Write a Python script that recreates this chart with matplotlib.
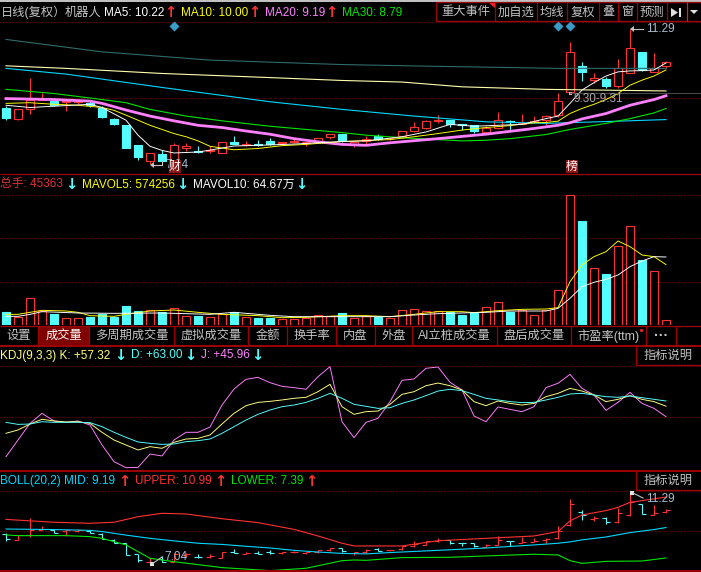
#!/usr/bin/env python3
import matplotlib
matplotlib.use("Agg")
import matplotlib.pyplot as plt
from matplotlib.patches import Rectangle, Polygon

plt.rcParams["font.family"] = ["Liberation Sans", "Noto Sans CJK SC", "DejaVu Sans"]

W, H = 701, 572
BG = "#000000"
RED = "#ff3232"
CYAN = "#54ffff"
YELLOW = "#ffff00"
MAGENTA = "#ff80ff"
GREEN = "#00e600"
TEAL = "#2f6b6b"
CREAM = "#ffffb0"
SKY = "#00d8ff"
PALE = "#ffff80"
GRAY = "#c4c4c4"
FRAME = "#a00000"
DOT = "#a00000"

# daily candles
opens = [8.79, 8.46, 8.76, 9.05, 9.02, 9.00, 8.98, 8.97, 8.79, 8.47, 8.26, 7.63, 7.13, 7.35,
         7.18, 7.56, 7.46, 7.46, 7.40, 7.74, 7.64, 7.67, 7.76, 7.71, 7.74, 7.71, 7.77, 7.88,
         8.00, 7.66, 7.76, 7.93, 7.85, 7.93, 8.09, 8.18, 8.40, 8.43, 8.30, 8.26, 8.06, 8.16,
         8.40, 8.30, 8.36, 8.44, 8.58, 9.32, 10.12, 9.68, 9.73, 9.50, 9.92, 10.58, 9.94, 10.11]
closes = [8.50, 8.76, 9.05, 9.09, 8.89, 9.03, 9.02, 8.89, 8.53, 8.29, 7.55, 7.27, 7.40, 7.13,
          7.63, 7.62, 7.43, 7.49, 7.75, 7.67, 7.67, 7.65, 7.67, 7.73, 7.77, 7.74, 7.85, 8.00,
          7.79, 7.74, 7.84, 7.83, 7.87, 8.09, 8.22, 8.38, 8.44, 8.29, 8.27, 8.08, 8.17, 8.44,
          8.37, 8.34, 8.41, 8.54, 9.01, 10.58, 9.94, 9.75, 9.49, 10.07, 10.68, 9.99, 10.05, 10.24]
highs = [8.86, 8.76, 9.75, 9.26, 9.05, 9.05, 9.08, 9.03, 8.86, 8.50, 8.26, 7.63, 7.40, 7.48,
         7.69, 7.71, 7.60, 7.61, 7.75, 7.92, 7.76, 7.81, 7.85, 7.73, 7.82, 7.74, 7.85, 8.00,
         8.00, 7.74, 7.92, 7.98, 7.87, 8.09, 8.37, 8.42, 8.58, 8.43, 8.30, 8.26, 8.23, 8.67,
         8.42, 8.61, 8.55, 8.57, 9.26, 10.88, 10.25, 9.89, 9.79, 10.33, 11.29, 10.58, 10.52, 10.27]
lows = [8.42, 8.44, 8.61, 9.05, 8.86, 8.71, 8.93, 8.84, 8.50, 8.27, 7.55, 7.16, 7.04, 7.13,
        7.16, 7.45, 7.39, 7.38, 7.40, 7.67, 7.60, 7.60, 7.65, 7.63, 7.71, 7.62, 7.71, 7.83,
        7.74, 7.58, 7.66, 7.81, 7.79, 7.86, 8.04, 8.15, 8.34, 8.21, 8.11, 8.02, 8.05, 8.13,
        8.11, 8.29, 8.32, 8.26, 8.53, 9.30, 9.65, 9.58, 9.42, 9.44, 9.89, 9.97, 9.93, 10.05]

# moving averages, read at the days listed
ma5_idx = [0, 2, 4, 7, 8, 10, 11, 12, 13, 14, 16, 17, 19, 21, 24, 28, 30, 33, 35, 37, 39, 41,
           43, 45, 46, 47, 48, 49, 50, 51, 52, 53, 54, 55]
ma5 = [8.89, 8.82, 8.86, 8.92, 8.82, 8.42, 7.95, 7.60, 7.47, 7.39, 7.42, 7.48, 7.61, 7.63,
       7.67, 7.75, 7.77, 7.90, 8.05, 8.29, 8.23, 8.26, 8.29, 8.47, 8.55, 8.95, 9.37, 9.60,
       9.81, 9.94, 9.97, 9.98, 10.00, 10.22]
ma10_idx = [0, 2, 4, 6, 8, 9, 10, 12, 14, 15, 16, 17, 19, 21, 23, 25, 28, 30, 32, 34, 36, 38,
            40, 42, 44, 45, 46, 47, 48, 49, 50, 51, 52, 53, 54, 55]
ma10 = [8.95, 8.97, 8.92, 8.89, 8.82, 8.73, 8.58, 8.26, 8.00, 7.90, 7.77, 7.60, 7.49, 7.53,
        7.62, 7.66, 7.75, 7.78, 7.81, 7.90, 8.00, 8.11, 8.19, 8.25, 8.34, 8.35, 8.39, 8.63,
        8.79, 8.92, 9.07, 9.26, 9.52, 9.68, 9.81, 10.00]
ma20_idx = [0, 4, 7, 8, 10, 12, 14, 16, 18, 20, 22, 24, 26, 28, 30, 32, 36, 40, 44, 46, 47,
            48, 50, 52, 54, 55]
ma20 = [9.10, 9.07, 9.02, 8.95, 8.74, 8.55, 8.40, 8.26, 8.19, 8.08, 7.98, 7.84, 7.74, 7.66,
        7.63, 7.71, 7.84, 7.98, 8.16, 8.26, 8.34, 8.46, 8.63, 8.89, 9.07, 9.19]
ma30_idx = [0, 4, 8, 10, 12, 15, 18, 22, 28, 30, 33, 36, 38, 40, 42, 45, 47, 50, 52, 54, 55]
ma30 = [9.39, 9.26, 9.07, 8.97, 8.76, 8.55, 8.40, 8.23, 8.03, 7.95, 7.87, 7.81, 7.77, 7.79,
        7.84, 7.97, 8.13, 8.32, 8.47, 8.65, 8.79]
ma60_idx = [0, 5, 13, 22, 28, 34, 40, 45, 51, 55]
ma60 = [10.05, 9.87, 9.45, 9.00, 8.76, 8.55, 8.37, 8.32, 8.39, 8.44]
ma120_idx = [0, 5, 13, 22, 28, 33, 38, 45, 55]
ma120 = [10.13, 10.05, 9.89, 9.76, 9.67, 9.62, 9.47, 9.39, 9.34]
ma250_idx = [0, 8, 17, 28, 35, 46, 55]
ma250 = [10.96, 10.57, 10.31, 10.17, 10.12, 10.05, 10.05]

marker_days = [14, 46, 47]

# volume (lots)
volumes = [123600, 79250, 253600, 133100, 107800, 63400, 63400, 76100, 107800, 79250, 180700,
           133100, 142650, 123600, 158500, 82400, 85600, 72900, 101400, 120500, 72900, 66600,
           66600, 53900, 60200, 69700, 91900, 82400, 114100, 69700, 82400, 79250, 69700,
           139500, 149000, 130000, 130000, 120500, 95100, 111000, 168000, 215600, 123600,
           142650, 91900, 139500, 329700, 1233100, 989000, 538900, 485000, 748100, 938300,
           618200, 510400, 45363]
mavol5_idx = [0, 1, 2, 3, 5, 6, 7, 9, 10, 12, 14, 16, 18, 21, 23, 25, 28, 30, 32, 34, 36, 38,
              39, 41, 43, 45, 46, 47, 48, 49, 50, 51, 52, 53, 54, 55]
mavol5 = [101400, 101400, 120500, 139500, 133100, 120500, 88800, 82400, 101400, 133100, 142650,
          120500, 101400, 88800, 69700, 72900, 88800, 88800, 79250, 101400, 126800, 126800,
          117300, 136300, 149000, 152200, 164800, 412100, 570600, 649900, 697400, 798800,
          745000, 665700, 649900, 574256]
mavol10_idx = [0, 1, 2, 3, 6, 9, 13, 17, 19, 20, 22, 24, 28, 32, 34, 36, 38, 40, 42, 45, 46,
               47, 48, 49, 50, 51, 52, 53, 54, 55]
mavol10 = [82400, 82400, 101400, 126800, 114100, 111000, 114100, 101400, 120500, 111000, 91900,
           79250, 79250, 79250, 95100, 107800, 114100, 120500, 133100, 133100, 158500, 253600,
           364600, 405800, 434300, 475500, 554800, 608600, 649900, 646700]

# KDJ
kdj_k = [27.9, 31.5, 38.0, 43.1, 41.3, 40.2, 40.5, 38.7, 29.0, 20.6, 15.2, 9.8, 13.4, 11.6,
         18.1, 21.7, 22.4, 26.1, 38.0, 49.6, 57.9, 61.5, 62.6, 64.1, 65.9, 67.0, 73.1, 81.1,
         56.8, 48.5, 51.4, 52.1, 59.4, 70.2, 73.1, 79.6, 82.5, 79.6, 74.9, 62.3, 57.9, 63.0,
         60.4, 58.6, 60.4, 67.7, 71.3, 76.7, 73.8, 69.5, 62.3, 64.8, 68.8, 64.8, 62.3, 57.32]
kdj_d = [39.8, 37.6, 38.0, 40.5, 39.8, 39.8, 39.8, 39.5, 35.1, 29.0, 23.5, 18.5, 17.0, 15.9,
         16.3, 18.8, 19.9, 21.7, 27.9, 35.1, 42.3, 48.5, 53.2, 56.8, 58.6, 61.5, 65.9, 71.3,
         65.9, 59.4, 57.2, 55.0, 55.7, 60.4, 64.1, 68.8, 73.8, 75.7, 74.2, 70.2, 65.9, 64.1,
         62.3, 61.2, 61.5, 64.1, 67.0, 70.6, 71.3, 69.5, 67.7, 67.0, 68.4, 66.6, 64.8, 63.00]
kdj_j = [2.5, 20.6, 38.7, 49.6, 41.3, 39.8, 41.3, 36.9, 15.2, -2.9, -9.4, -9.1, 5.4, 3.3,
         20.6, 29.0, 29.0, 34.7, 58.6, 76.0, 86.5, 88.7, 82.9, 78.9, 77.5, 75.7, 89.4, 100.3,
         40.5, 23.2, 39.8, 44.2, 62.3, 85.4, 86.9, 98.5, 99.9, 83.3, 74.9, 46.7, 40.5, 56.5,
         53.9, 51.4, 56.8, 77.5, 82.2, 91.9, 76.7, 69.5, 52.8, 61.5, 72.4, 60.4, 55.0, 45.96]

# Bollinger bands, the mid line is ma20
upper_idx = [0, 4, 7, 9, 11, 13, 15, 18, 21, 24, 26, 28, 29, 33, 36, 40, 44, 46, 47, 48, 50,
             51, 52, 53, 55]
upper = [9.67, 9.50, 9.44, 9.50, 9.83, 10.03, 9.99, 9.71, 9.48, 9.08, 8.69, 8.26, 8.10, 8.10,
         8.41, 8.55, 8.69, 8.95, 9.58, 9.93, 10.19, 10.38, 10.68, 10.78, 10.99]
lower_idx = [0, 1, 5, 7, 8, 10, 12, 14, 18, 22, 25, 28, 29, 30, 33, 37, 40, 44, 46, 47, 48,
             50, 53, 55]
lower = [8.75, 8.71, 8.71, 8.65, 8.55, 8.16, 7.37, 7.17, 6.82, 6.64, 6.78, 7.23, 7.27, 7.25,
         7.41, 7.43, 7.51, 7.61, 7.57, 7.23, 7.07, 7.19, 7.21, 7.39]

top_buttons = ["重大事件", "加自选", "均线", "复权", "叠", "窗", "预测"]
top_button_edges = [436, 495, 537, 567, 599, 618, 637, 667]
tab_labels = ["设置", "成交量", "多周期成交量", "虚拟成交量", "金额", "换手率", "内盘", "外盘",
              "AI立桩成交量", "盘后成交量", "市盈率(ttm)", "···"]
tab_edges = [0, 38, 89, 174, 248, 287, 336, 375, 412, 497, 571, 646, 676]

fig = plt.figure(figsize=(W / 100, H / 100), dpi=100, facecolor=BG)


def panel(top, bottom, ylim):
    ax = fig.add_axes([0, 1 - bottom / H, 1, (bottom - top) / H], facecolor=BG)
    ax.set_xlim(-0.5, (W - 6) / 12)
    ax.set_ylim(*ylim)
    ax.axis("off")
    return ax


def grid(ax, levels):
    for lv in levels:
        ax.axhline(lv, color=DOT, lw=0.72, ls=(0, (1, 2)), zorder=1)


def line(ax, x, y, color, lw=0.68):
    ax.plot(x, y, color=color, lw=lw, zorder=5, solid_joinstyle="round")


days = list(range(len(closes)))

# price panel
ax_price = panel(0, 173, (6.76, 12.20))
grid(ax_price, [11.51, 9.12])
for i in days:
    up = closes[i] >= opens[i]
    col = RED if up else CYAN
    hi_body, lo_body = max(opens[i], closes[i]), min(opens[i], closes[i])
    ax_price.vlines(i, hi_body, highs[i], color=col, lw=0.8, zorder=3)
    ax_price.vlines(i, lows[i], lo_body, color=col, lw=0.8, zorder=3)
    ax_price.add_patch(Rectangle((i - 0.36, lo_body), 0.72, hi_body - lo_body,
                                 facecolor=BG if up else col, edgecolor=col, lw=0.8, zorder=3))
line(ax_price, ma250_idx, ma250, TEAL, lw=0.8)
line(ax_price, ma120_idx, ma120, CREAM, lw=0.8)
line(ax_price, ma60_idx, ma60, SKY, lw=0.8)
line(ax_price, ma30_idx, ma30, GREEN, lw=0.8)
line(ax_price, ma20_idx, ma20, MAGENTA, lw=2.0)
line(ax_price, ma10_idx, ma10, YELLOW)
line(ax_price, ma5_idx, ma5, "#ffffff")
ax_price.scatter(marker_days, [11.38] * len(marker_days), marker="D", s=26, color="#3a9bc8",
                 linewidths=0, zorder=6)

# volume panel
ax_vol = panel(175, 325, (0, 1426500))
grid(ax_vol, [1233100, 824200, 412100])
for i in days:
    up = closes[i] >= opens[i]
    col = RED if up else CYAN
    ax_vol.bar(i, volumes[i], width=0.72, facecolor=BG if up else col, edgecolor=col, lw=0.8, zorder=3)
line(ax_vol, mavol5_idx, mavol5, YELLOW)
line(ax_vol, mavol10_idx, mavol10, "#ffffff")

# KDJ panel
ax_kdj = panel(345, 470, (-11.95, 123.8))
grid(ax_kdj, [100.6, 45.2])
line(ax_kdj, days, kdj_j, MAGENTA)
line(ax_kdj, days, kdj_k, PALE)
line(ax_kdj, days, kdj_d, CYAN)

# BOLL panel, candles shown as open/close ticks
ax_boll = panel(470, 572, (6.56, 12.59))
grid(ax_boll, [11.33, 8.97])
for i in days:
    col = RED if closes[i] >= opens[i] else CYAN
    ax_boll.vlines(i, lows[i], highs[i], color=col, lw=0.8, zorder=3)
    ax_boll.hlines(opens[i], i - 0.36, i, color=col, lw=0.8, zorder=3)
    ax_boll.hlines(closes[i], i, i + 0.36, color=col, lw=0.8, zorder=3)
line(ax_boll, upper_idx, upper, RED, lw=0.8)
line(ax_boll, ma20_idx, ma20, SKY, lw=0.8)
line(ax_boll, lower_idx, lower, GREEN, lw=0.8)

# interface overlay, in pixel coordinates
ui = fig.add_axes([0, 0, 1, 1], facecolor="none", zorder=10)
ui.set_xlim(0, W)
ui.set_ylim(H, 0)
ui.axis("off")


def label(x, y, s, color, size=8.8, ha="left", **kw):
    ui.text(x, y, s, color=color, fontsize=size, ha=ha, va="center", **kw)


def head(x, y, s, color):
    label(x, y, s, color, size=8.5)


def arrow(x, y, up=True):
    ui.text(x, y, "↑" if up else "↓", color=RED if up else CYAN, fontsize=10.5, ha="center",
            va="center", family="DejaVu Sans", fontweight="bold")


def hrule(y, x0=0, x1=W, color=FRAME, lw=0.9):
    ui.plot([x0, x1], [y, y], color=color, lw=lw, solid_capstyle="butt")


def vrule(x, y0, y1, color=FRAME, lw=0.9):
    ui.plot([x, x], [y0, y1], color=color, lw=lw, solid_capstyle="butt")


# frame lines
hrule(0.8, color="#e8e8e8", lw=1.2)
hrule(173.5)
hrule(325.5)
hrule(345.5, lw=1.4)
hrule(470.5, lw=1.4)
hrule(571, lw=1.4)

# price header
label(1, 12.5, "日线(复权）", GRAY)
label(65, 12.5, "机器人", GRAY)
head(104, 12.5, "MA5: 10.22", "#ffffff")
arrow(170, 12.5)
head(181, 12.5, "MA10: 10.00", YELLOW)
arrow(254, 12.5)
head(265, 12.5, "MA20: 9.19", MAGENTA)
arrow(331, 12.5)
head(342, 12.5, "MA30: 8.79", GREEN)

# top buttons
for k, name in enumerate(top_buttons):
    label((top_button_edges[k] + top_button_edges[k + 1]) / 2, 12.5, name, GRAY, ha="center")
for xe in top_button_edges:
    vrule(xe, 2, 21)
hrule(2, 436, 701)
hrule(21, 436, 701)
vrule(687, 2, 21, color="#e02020")
ui.add_patch(Polygon([(488, 2), (495, 2), (495, 8)], color="#ff2020", lw=0))
ui.add_patch(Polygon([(671, 8), (671, 17), (678, 12.5)], color="#e0e0e0", lw=0))
ui.add_patch(Rectangle((679, 8), 2, 9, color="#e0e0e0", lw=0))
ui.add_patch(Polygon([(690, 10), (698, 10), (694, 14)], color="#e0e0e0", lw=0))

# price annotations
ui.plot([632, 643], [29, 29], color=GRAY, lw=0.8)
ui.add_patch(Polygon([(630, 29), (634, 26), (634, 32)], color=GRAY, lw=0))
head(646, 29.5, "11.29", "#a8bcd0")
ui.plot([570, W], [93, 93], color="#484848", lw=0.8)
ui.add_patch(Rectangle((569, 91.5), 3, 3, color=GRAY, lw=0))
head(573, 99.5, "9.30-9.31", "#a8a8a8")
ui.plot([152, 162, 162], [165, 165, 161], color=GRAY, lw=0.8)
ui.add_patch(Polygon([(150, 165), (154, 162), (154, 168)], color=GRAY, lw=0))
head(165, 165.5, "7.04", "#a8bcd0")
for bx, ch in [(169, "财"), (566, "榜")]:
    ui.add_patch(Rectangle((bx, 160), 12, 13, color="#8c1414", lw=0, zorder=4))
    ui.text(bx + 6, 166.5, ch, color="#ffffff", fontsize=8.6, ha="center", va="center", zorder=5)

# volume header
head(0, 184.5, "总手: 45363", "#e03030")
arrow(71, 184.5, up=False)
head(82, 184.5, "MAVOL5: 574256", YELLOW)
arrow(182, 184.5, up=False)
head(193, 184.5, "MAVOL10: 64.67万", "#ffffff")
arrow(301, 184.5, up=False)

# tabs
ui.add_patch(Rectangle((tab_edges[1], 326), tab_edges[2] - tab_edges[1], 19, color="#800000", lw=0))
for k, name in enumerate(tab_labels):
    col = "#ffffff" if k == 1 else GRAY
    if k == len(tab_labels) - 1:
        label((tab_edges[k] + tab_edges[k + 1]) / 2, 336, name, col, ha="center", fontweight="bold", size=10)
    else:
        label((tab_edges[k] + tab_edges[k + 1]) / 2, 336, name, col, ha="center")
for xe in tab_edges[1:]:
    vrule(xe, 326, 345)
ui.scatter([641], [330], s=5, color="#ff2020", linewidths=0)

# KDJ header
head(0, 355.5, "KDJ(9,3,3) K: +57.32", PALE)
arrow(120, 355.5, up=False)
head(131, 355.5, "D: +63.00", CYAN)
arrow(190, 355.5, up=False)
head(201, 355.5, "J: +45.96", MAGENTA)
arrow(257, 355.5, up=False)

# BOLL header
head(0, 481, "BOLL(20,2) MID: 9.19", SKY)
arrow(124, 481)
head(135, 481, "UPPER: 10.99", RED)
arrow(220, 481)
head(231, 481, "LOWER: 7.39", GREEN)
arrow(311, 481)

# help buttons
for y0 in (345.5, 470.5):
    vrule(636, y0, y0 + 19.5)
    hrule(y0 + 19.5, 636, 701)
    label(668.5, y0 + 10.5, "指标说明", GRAY, ha="center")

# BOLL annotations
ui.add_patch(Rectangle((630, 491), 4, 4, color="#e8e8e8", lw=0))
ui.plot([633, 643], [493, 498], color=GRAY, lw=0.8)
head(646, 499, "11.29", "#a8bcd0")
ui.add_patch(Rectangle((150, 562), 4, 4, color="#e8e8e8", lw=0))
ui.plot([152, 162], [564, 557], color=GRAY, lw=0.8)
head(164, 556.5, "7.04", "#a8bcd0")

fig.savefig("out.png", dpi=100, facecolor=BG)
plt.close(fig)
